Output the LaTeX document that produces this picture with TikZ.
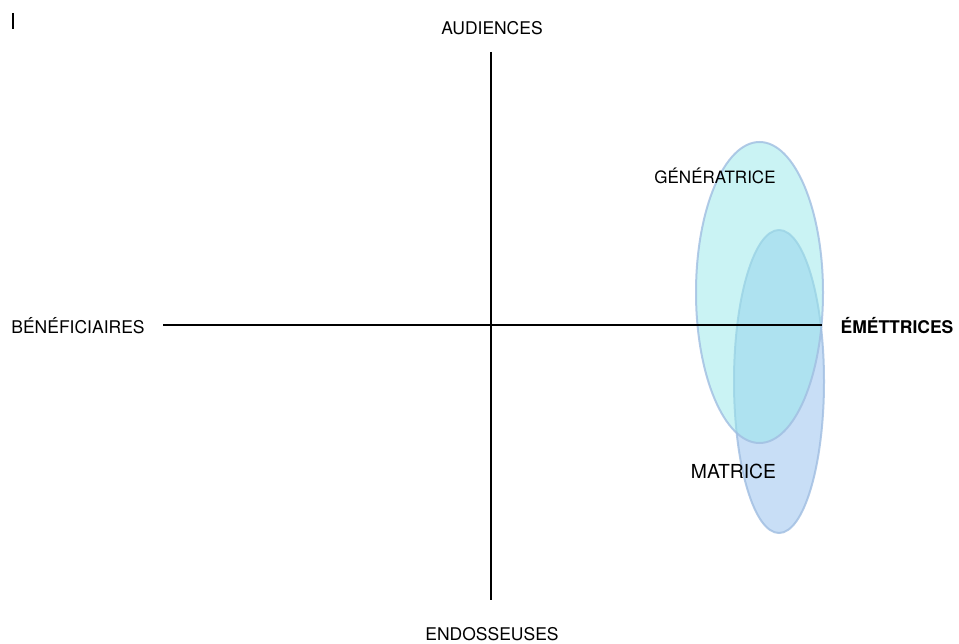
\documentclass[tikz,border=0pt]{standalone}
\usepackage{fontspec}
\setmainfont{TeX Gyre Heros}
\usetikzlibrary{positioning}
\definecolor{cyanfill}{RGB}{150,232,234}
\definecolor{bluefill}{RGB}{145,189,237}
\definecolor{rim}{RGB}{160,190,225}
\tikzset{
	axe/.style={line width=2.4pt,black},
	lab/.style={font=\fontsize{17.5}{20}\selectfont,inner sep=0pt},
	blob/.style={draw=rim,line width=2pt,fill opacity=0.5,draw opacity=0.8}
}

\begin{document}
\begin{tikzpicture}[x=1pt,y=-1pt]
			\useasboundingbox (0,0) rectangle (959,644);
			\draw[line width=1.5pt] (13,13) -- (13,29);
			\filldraw[blob,fill=bluefill] (779,381.5) ellipse [x radius=45pt, y radius=151.5pt];
			\filldraw[blob,fill=cyanfill] (759.5,292.5) ellipse [x radius=63.5pt, y radius=150.5pt];
			\coordinate (top) at (491,52);
			\coordinate (bottom) at (491,600);
			\coordinate (left) at (163,325);
			\coordinate (right) at (822,325);
			\draw[axe] (top) -- (bottom);
			\draw[axe] (left) -- (right);
			\node[lab] (audiences) at (492,28) {AUDIENCES};
			\node[lab] (endosseuses) at (492,634) {ENDOSSEUSES};
			\node[lab] (beneficiaires) at (78,326) {BÉNÉFICIAIRES};
			\node[lab,font=\fontsize{17.5}{20}\selectfont\bfseries] (emettrices) at (897,326) {ÉMÉTTRICES};
			\node[lab,font=\fontsize{17}{20}\selectfont] (generatrice) at (715,176) {GÉNÉRATRICE};
			\node[lab,font=\fontsize{19.3}{22}\selectfont] (matrice) at (733.5,471) {MATRICE};
		\end{tikzpicture}
\end{document}
